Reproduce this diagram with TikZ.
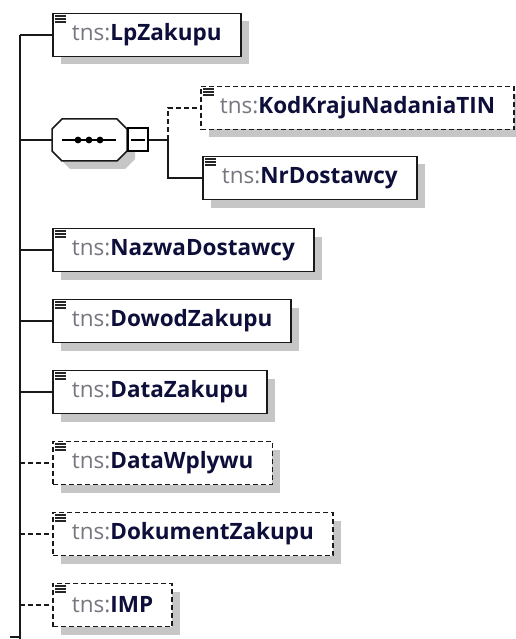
\documentclass[tikz,border=0pt]{standalone}
\usepackage{fontspec}
\setmainfont{Open Sans}
\usetikzlibrary{positioning,shadows}
\definecolor{prefgray}{RGB}{118,118,128}
\definecolor{namenavy}{RGB}{14,14,58}
\definecolor{shadowgray}{RGB}{198,198,198}
\newcommand{\elname}[1]{\textcolor{prefgray}{tns:}\textcolor{namenavy}{\textbf{#1}}}
% three short lines in the top left corner of an element box
\newcommand{\docicon}[1]{%
  \foreach \k in {0,1,2}
    \draw[line width=1.5pt, black!85] ([xshift=3pt, yshift={-3.5pt-3pt*\k}]#1.north west) -- ++(11pt,0);}
% octagon of the sequence compositor
\newcommand{\octpath}{(62,119) -- (117,119) -- (127,129) -- (127,151) -- (117,161) -- (62,161) -- (52,151) -- (52,129) -- cycle}
\tikzset{
  elem/.style={draw=black!90, line width=1.8pt, fill=white, anchor=west,
    minimum height=43pt, inner xsep=19pt, inner ysep=0pt,
    font=\fontsize{22.5}{26}\selectfont,
    drop shadow={shadow xshift=8pt, shadow yshift=-8pt, fill=shadowgray, opacity=1}},
  optelem/.style={elem, dash pattern=on 5pt off 3pt},
  link/.style={line width=1.8pt, black!90},
  optlink/.style={link, dash pattern=on 5pt off 3pt},
}
\begin{document}
\begin{tikzpicture}[x=1pt, y=-1pt]
    \useasboundingbox (0,0) rectangle (515,639);
    \coordinate (top) at (20,35);
    \coordinate (bot) at (20,639);
    \coordinate (stub) at (10,637);
    \draw[link] (top) -- (bot);
    \draw[link] (stub) -- (stub -| bot);

    % first element
    \node[elem] (lp) at (52,35) {\elname{LpZakupu}};
    \docicon{lp}
    \draw[link] (top) -- (lp.west);

    % sequence with its two children
    \fill[shadowgray, shift={(8,8)}] \octpath;
    \draw[line width=1.5pt, black!90, fill=white] \octpath;
    \node[minimum width=75pt, minimum height=42pt, inner sep=0pt] (seq) at (89.5,140) {};
    \draw[line width=1.3pt] (62,140) -- (116,140);
    \foreach \x in {78,89,100}
        \fill (\x,140) circle (3.4pt);
    \node[draw=black, line width=2pt, fill=white, minimum width=20pt, minimum height=23pt,
          inner sep=0pt, anchor=west] (sqr) at (seq.east) {};
    \draw[line width=1.3pt] ([xshift=4pt]sqr.west) -- ([xshift=-4pt]sqr.east);
    \draw[link] (top |- seq.west) -- (seq.west);
    \coordinate (fork) at (168,140);
    \draw[link] (sqr.east) -- (fork);

    \node[optelem] (kod) at (200,108) {\elname{KodKrajuNadaniaTIN}};
    \docicon{kod}
    \node[elem] (nr) at (202,178) {\elname{NrDostawcy}};
    \docicon{nr}
    \draw[optlink] (fork) |- (kod.west);
    \draw[link] (fork) |- (nr.west);

    % remaining elements on the trunk
    \foreach \y/\nm/\txt/\st in {250/nazwa/NazwaDostawcy/elem, 321/dowod/DowodZakupu/elem,
                                 392/data/DataZakupu/elem, 463/wplyw/DataWplywu/optelem,
                                 534/dok/DokumentZakupu/optelem, 605/imp/IMP/optelem}{
        \node[\st] (\nm) at (52,\y) {\elname{\txt}};
        \docicon{\nm}
    }
    \foreach \nm in {nazwa, dowod, data}
        \draw[link] (top |- \nm.west) -- (\nm.west);
    \foreach \nm in {wplyw, dok, imp}
        \draw[optlink] (top |- \nm.west) -- (\nm.west);
\end{tikzpicture}
\end{document}
